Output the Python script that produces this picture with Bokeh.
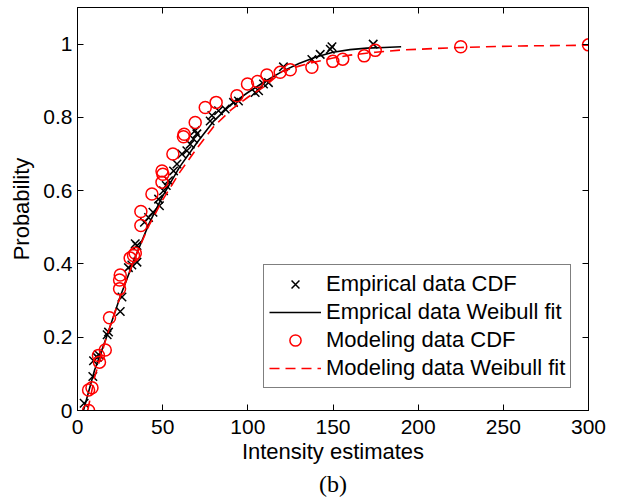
from bokeh.plotting import figure
from bokeh.models import Range1d, LinearAxis, FixedTicker, Legend, LegendItem, Title
from bokeh.embed import file_html
from bokeh.resources import INLINE

# ---- data ----
emp_x = [3.9, 9.0, 9.4, 11.6, 12.3, 17.4, 18.2, 25.1, 26.1, 29.9, 31.9, 33.9, 34.9, 34.9,
         39.3, 41.7, 44.3, 47.6, 48.1, 50.5, 52.1, 53.4, 56.4, 58.4, 61.3, 64.2, 66.2, 68.1,
         69.1, 70.1, 77.9, 78.9, 82.8, 86.7, 91.6, 94.5, 104.3, 106.3, 109.2, 112.1, 120.9,
         137.6, 142.5, 148.4, 149.4, 173.6]
emp_y = [0.02, 0.093, 0.136, 0.145, 0.153, 0.207, 0.214, 0.27, 0.31, 0.39, 0.397, 0.455, 0.405,
         0.45, 0.514, 0.527, 0.541, 0.577, 0.559, 0.6, 0.614, 0.627, 0.654, 0.673, 0.7, 0.709,
         0.727, 0.741, 0.764, 0.755, 0.79, 0.805, 0.818, 0.823, 0.841, 0.845, 0.868, 0.873,
         0.891, 0.895, 0.938, 0.958, 0.972, 0.986, 0.993, 1.0]

mod_x = [6.5, 6.5, 8.5, 12.3, 12.9, 16.3, 18.8, 24.7, 24.7, 25.1, 30.9, 32.9, 33.9, 37.2, 37.2,
         43.7, 49.6, 50.1, 49.6, 56.0, 62.2, 62.6, 69.1, 75.0, 81.4, 93.6, 99.8, 105.7, 111.2,
         119.0, 124.9, 137.6, 149.9, 155.7, 168.3, 174.8, 225, 300]
mod_y = [0.0, 0.056, 0.062, 0.15, 0.132, 0.165, 0.253, 0.332, 0.356, 0.37, 0.416, 0.423, 0.429,
         0.505, 0.543, 0.591, 0.623, 0.645, 0.654, 0.70, 0.747, 0.754, 0.786, 0.827, 0.841,
         0.859, 0.891, 0.898, 0.916, 0.923, 0.93, 0.937, 0.953, 0.959, 0.968, 0.983, 0.993, 0.998]

emp_fit_x = [3.5, 10, 17, 25, 34, 42, 50, 60, 70, 80, 90, 100, 110, 120, 130, 140, 150, 160, 170, 180, 190]
emp_fit_y = [0.0, 0.11, 0.2, 0.31, 0.42, 0.51, 0.585, 0.665, 0.73, 0.79, 0.835, 0.868, 0.898,
             0.925, 0.947, 0.965, 0.978, 0.985, 0.989, 0.991, 0.993]

mod_fit_x = [6, 10, 17, 25, 34, 42, 50, 60, 70, 80, 90, 100, 110, 120, 130, 140, 150, 160, 175,
             190, 225, 260, 300]
mod_fit_y = [0.0, 0.09, 0.2, 0.31, 0.42, 0.505, 0.575, 0.65, 0.715, 0.775, 0.82, 0.855, 0.885,
             0.925, 0.94, 0.952, 0.962, 0.97, 0.978, 0.984, 0.991, 0.995, 0.997]

x_ticks = [0, 50, 100, 150, 200, 250, 300]
y_ticks = [0, 0.2, 0.4, 0.6, 0.8, 1]
y_tick_labels = ["0", "0.2", "0.4", "0.6", "0.8", "1"]
x_label = "Intensity estimates"
y_label = "Probability"
legend_labels = ["Empirical data CDF", "Emprical data Weibull fit",
                 "Modeling data CDF", "Modeling data Weibull fit"]
caption = "(b)"

FONT = "Liberation Sans"

p = figure(width=615, height=500, output_backend="svg", toolbar_location=None,
           x_range=Range1d(0, 300), y_range=Range1d(0, 1.1),
           min_border_left=77, min_border_right=27, min_border_top=7, min_border_bottom=90)
p.grid.visible = False
p.outline_line_color = "black"
p.outline_line_width = 1
p.background_fill_color = "white"
p.border_fill_color = "white"

def style_axis(ax):
    ax.major_tick_in = 6
    ax.major_tick_out = 0
    ax.minor_tick_in = 0
    ax.minor_tick_out = 0
    ax.axis_line_color = "black"
    ax.major_tick_line_color = "black"
    ax.major_label_text_font = FONT
    ax.major_label_text_font_size = "21px"
    ax.major_label_text_color = "black"
    ax.axis_label_text_font = FONT
    ax.axis_label_text_font_size = "22px"
    ax.axis_label_text_font_style = "normal"
    ax.axis_label_text_color = "black"

xa = p.xaxis[0]
ya = p.yaxis[0]
style_axis(xa)
style_axis(ya)
xa.ticker = FixedTicker(ticks=x_ticks)
ya.ticker = FixedTicker(ticks=y_ticks)
ya.major_label_overrides = {t: s for t, s in zip(y_ticks, y_tick_labels)}
xa.axis_label = x_label
ya.axis_label = y_label
xa.major_label_standoff = 9
xa.axis_label_standoff = 2
ya.major_label_standoff = 5
ya.axis_label_standoff = 6

top = LinearAxis(ticker=FixedTicker(ticks=x_ticks))
right = LinearAxis(ticker=FixedTicker(ticks=y_ticks))
for ax in (top, right):
    style_axis(ax)
    ax.major_label_text_font_size = "0px"
    ax.major_label_standoff = 0
p.add_layout(top, "above")
p.add_layout(right, "right")

r_emp = p.scatter(emp_x, emp_y, marker="x", size=12, line_color="black", line_width=1.5)
r_fit = p.line(emp_fit_x, emp_fit_y, line_color="black", line_width=1.6)
r_mod = p.scatter(mod_x, mod_y, marker="circle", size=12, fill_color=None,
                  line_color="#ff0000", line_width=1.5)
r_mfit = p.line(mod_fit_x, mod_fit_y, line_color="#ff0000", line_width=1.6, line_dash="10 6")

legend = Legend(items=[LegendItem(label=legend_labels[0], renderers=[r_emp]),
                       LegendItem(label=legend_labels[1], renderers=[r_fit]),
                       LegendItem(label=legend_labels[2], renderers=[r_mod]),
                       LegendItem(label=legend_labels[3], renderers=[r_mfit])],
                location=(186, 22), padding=5, spacing=0, margin=0,
                label_height=28, glyph_height=28, glyph_width=52, label_standoff=5,
                border_line_color="black", border_line_width=1,
                background_fill_color="white", background_fill_alpha=1,
                label_text_font=FONT, label_text_font_size="22px", label_text_color="black")
p.add_layout(legend)

cap = Title(text=caption, align="center", text_font="Liberation Serif",
            text_font_size="24px", text_font_style="normal", text_color="black",
            standoff=4, offset=0)
p.add_layout(cap, "below")

open("out.html", "w").write(file_html(p, INLINE))
